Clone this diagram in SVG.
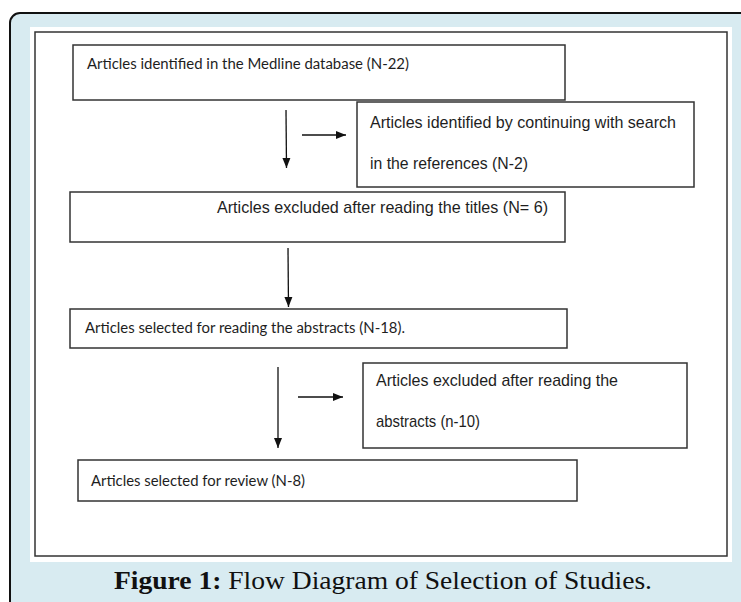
<svg xmlns="http://www.w3.org/2000/svg" width="741" height="602" viewBox="0 0 741 602">
<style>
.box{fill:#fff;stroke:#333;stroke-width:1.5}
.cal{font-family:Lato,"Open Sans",sans-serif;font-size:15.5px;fill:#1e1e1e}
.ari{font-family:"Liberation Sans",Arial,sans-serif;font-size:17px;fill:#1e1e1e}
.con{stroke:#111;stroke-width:1.3;fill:none}
.cap{font-family:"Liberation Serif","DejaVu Serif",serif;font-size:26px;fill:#111}
</style>
<defs>
<marker id="ah" markerUnits="userSpaceOnUse" markerWidth="10" markerHeight="10" viewBox="0 0 10 10" refX="10" refY="5" orient="auto">
<path d="M0,1 L10,5 L0,9 Z" fill="#111"/>
</marker>
</defs>
<rect x="10" y="13" width="800" height="700" rx="10" fill="#d8ebf1" stroke="#111" stroke-width="2"/>
<rect x="30" y="27" width="702" height="535" fill="#fff"/>
<rect x="35" y="32" width="692" height="524" fill="none" stroke="#333" stroke-width="1.5"/>
<g id="n1"><rect class="box" x="73" y="45" width="492" height="55"/>
<text class="cal" x="87" y="69" textLength="322" lengthAdjust="spacingAndGlyphs">Articles identified in the Medline database (N-22)</text></g>
<g id="n2"><rect class="box" x="357" y="102" width="337" height="85"/>
<text class="ari" x="370" y="128" textLength="306" lengthAdjust="spacingAndGlyphs">Articles identified by continuing with search</text>
<text class="ari" x="370" y="169" textLength="158" lengthAdjust="spacingAndGlyphs">in the references  (N-2)</text></g>
<g id="n3"><rect class="box" x="70" y="192" width="495" height="50"/>
<text class="ari" x="217" y="213" textLength="331" lengthAdjust="spacingAndGlyphs">Articles excluded after reading the titles (N= 6)</text></g>
<g id="n4"><rect class="box" x="70" y="309" width="497" height="39"/>
<text class="cal" x="85" y="333" textLength="320" lengthAdjust="spacingAndGlyphs">Articles selected for reading the abstracts (N-18).</text></g>
<g id="n5"><rect class="box" x="363" y="363" width="324" height="85"/>
<text class="ari" x="376" y="386" textLength="242" lengthAdjust="spacingAndGlyphs">Articles excluded after reading the</text>
<text class="ari" x="376" y="427" textLength="104" lengthAdjust="spacingAndGlyphs">abstracts (n-10)</text></g>
<g id="n6"><rect class="box" x="78" y="460" width="499" height="41"/>
<text class="cal" x="91" y="486" textLength="214" lengthAdjust="spacingAndGlyphs">Articles selected for review (N-8)</text></g>
<g id="connectors">
<line class="con" x1="286" y1="110" x2="286.5" y2="168" marker-end="url(#ah)"/>
<line class="con" x1="302" y1="135" x2="346" y2="135" marker-end="url(#ah)"/>
<line class="con" x1="288" y1="248" x2="288.5" y2="307" marker-end="url(#ah)"/>
<line class="con" x1="278" y1="367" x2="278" y2="448" marker-end="url(#ah)"/>
<line class="con" x1="298" y1="397" x2="343" y2="397" marker-end="url(#ah)"/>
</g>
<text class="cap" x="114" y="589" textLength="538" lengthAdjust="spacingAndGlyphs"><tspan font-weight="bold">Figure 1:</tspan> Flow Diagram of Selection of Studies.</text>
</svg>
